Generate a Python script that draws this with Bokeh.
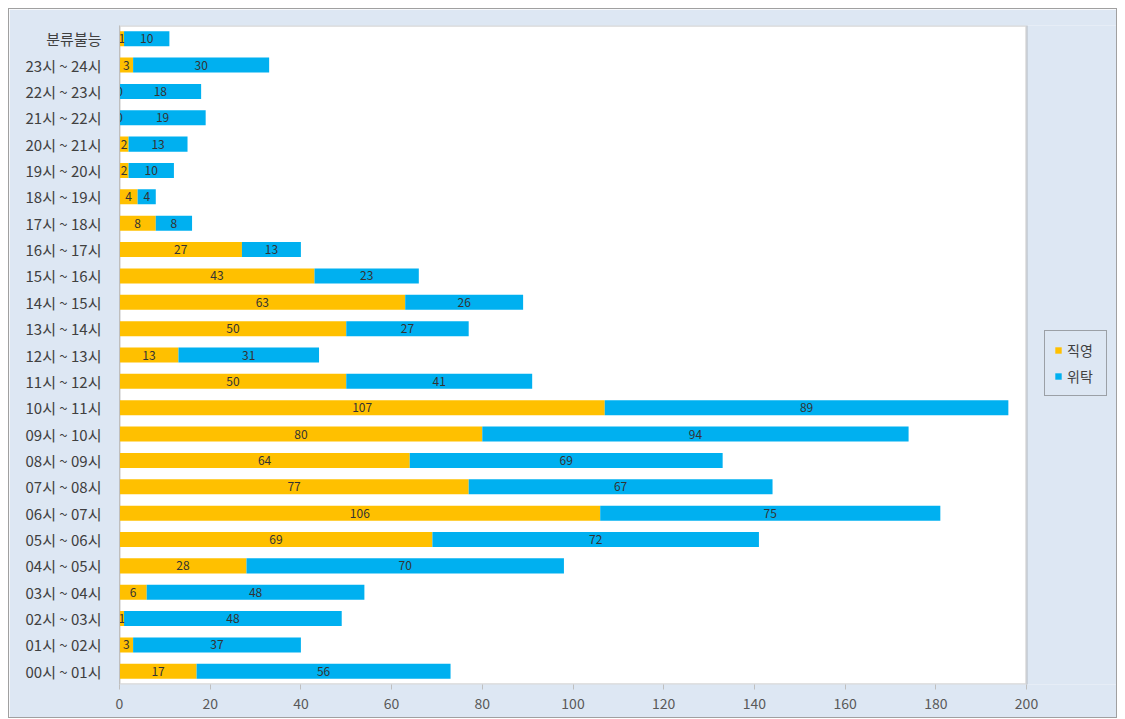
from bokeh.plotting import figure
from bokeh.models import (ColumnDataSource, FactorRange, Range1d, Legend, LegendItem,
                          FixedTicker, Spacer, BoxAnnotation)
from bokeh.layouts import column, row
from bokeh.core.properties import value
from bokeh.embed import file_html
from bokeh.resources import INLINE

categories = ["00시 ~ 01시", "01시 ~ 02시", "02시 ~ 03시", "03시 ~ 04시", "04시 ~ 05시",
              "05시 ~ 06시", "06시 ~ 07시", "07시 ~ 08시", "08시 ~ 09시", "09시 ~ 10시",
              "10시 ~ 11시", "11시 ~ 12시", "12시 ~ 13시", "13시 ~ 14시", "14시 ~ 15시",
              "15시 ~ 16시", "16시 ~ 17시", "17시 ~ 18시", "18시 ~ 19시", "19시 ~ 20시",
              "20시 ~ 21시", "21시 ~ 22시", "22시 ~ 23시", "23시 ~ 24시", "분류불능"]
direct = [17, 3, 1, 6, 28, 69, 106, 77, 64, 80, 107, 50, 13, 50, 63, 43, 27, 8, 4, 2, 2, 0, 0, 3, 1]
consign = [56, 37, 48, 48, 70, 72, 75, 67, 69, 94, 89, 41, 31, 27, 26, 23, 13, 8, 4, 10, 13, 19, 18, 30, 10]
series_names = ["직영", "위탁"]
x_ticks = [0, 20, 40, 60, 80, 100, 120, 140, 160, 180, 200]

FONT = "Noto Sans CJK KR"
C1 = "#ffc000"
C2 = "#00b0f0"
BG = "#dde7f3"

src = ColumnDataSource(dict(
    cat=categories, direct=direct, consign=consign,
    d_mid=[d / 2 for d in direct],
    c_mid=[d + c / 2 for d, c in zip(direct, consign)],
    d_lab=[str(v) for v in direct],
    c_lab=[str(v) for v in consign],
))

# the white plot area spans 0..200 (907 px); the frame continues 92 px more for the legend
x_max = x_ticks[-1]
x_ext = x_max * (907 + 92) / 907

p = figure(width=1109, height=710, output_backend="svg", toolbar_location=None,
           y_range=FactorRange(factors=categories, range_padding=0),
           x_range=Range1d(x_ticks[0], x_ext))
p.min_border_left = 110
p.min_border_right = 0
p.min_border_top = 16
p.min_border_bottom = 35
p.border_fill_color = BG
p.background_fill_color = BG
p.outline_line_color = None
p.styles = {"border": "1px solid #a0a0a0"}

area = BoxAnnotation(left=x_ticks[0], right=x_max, fill_color="white", fill_alpha=1,
                     line_color="#7f7f7f", line_width=2.4, level="underlay")
p.add_layout(area)

r = p.hbar_stack(["direct", "consign"], y="cat", height=0.57, color=[C1, C2],
                 line_color=None, source=src)

p.text(x="d_mid", y="cat", text="d_lab", source=src, text_align="center",
       text_baseline="middle", text_font=value(FONT), text_font_size="12px",
       text_color="#333333")
p.text(x="c_mid", y="cat", text="c_lab", source=src, text_align="center",
       text_baseline="middle", text_font=value(FONT), text_font_size="12px",
       text_color="#333333")

p.xgrid.visible = False
p.ygrid.visible = False

p.xaxis.ticker = FixedTicker(ticks=x_ticks)
p.xaxis.axis_line_color = None
p.xaxis.major_tick_line_color = "#bfbfbf"
p.xaxis.major_tick_out = 5
p.xaxis.major_tick_in = 0
p.xaxis.minor_tick_line_color = None
p.xaxis.major_label_text_font = FONT
p.xaxis.major_label_text_font_size = "14px"
p.xaxis.major_label_text_color = "#595959"
p.xaxis.major_label_standoff = 8

p.yaxis.axis_line_color = "#bfbfbf"
p.yaxis.major_tick_line_color = None
p.yaxis.minor_tick_line_color = None
p.yaxis.major_label_text_font = FONT
p.yaxis.major_label_text_font_size = "15px"
p.yaxis.major_label_text_color = "#404040"
p.yaxis.major_label_standoff = 12

legend = Legend(items=[LegendItem(label=series_names[0], renderers=[r[0]]),
                       LegendItem(label=series_names[1], renderers=[r[1]])],
                location=(925, 288))
legend.glyph_width = 8
legend.glyph_height = 8
legend.label_text_font = FONT
legend.label_text_font_size = "14px"
legend.label_text_color = "#404040"
legend.label_height = 18
legend.label_width = 30
legend.label_standoff = 5
legend.spacing = 6
legend.padding = 9
legend.margin = 0
legend.border_line_color = "#595959"
legend.border_line_width = 1
legend.background_fill_color = BG
legend.background_fill_alpha = 1
p.add_layout(legend, "center")

layout = column(Spacer(height=8), row(Spacer(width=8), p))
open("out.html", "w").write(file_html(layout, INLINE))
